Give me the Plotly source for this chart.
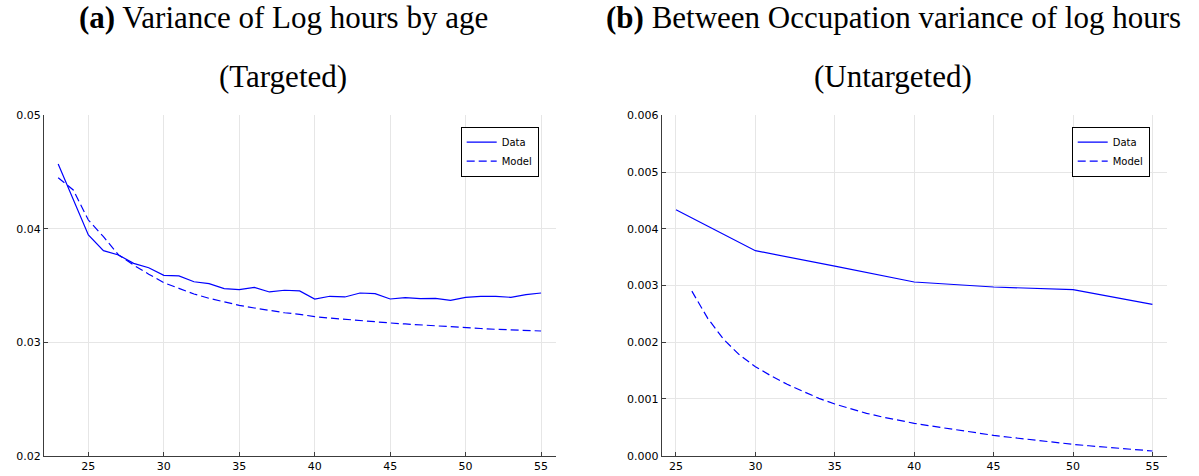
import plotly.graph_objects as go

# ---------------- data ----------------
ages_a = list(range(23, 56))
data_a = [0.0457, 0.0426, 0.03945, 0.03807, 0.03769, 0.03695, 0.03657, 0.0359,
          0.03584, 0.03533, 0.03516, 0.03472, 0.03463, 0.03484, 0.03443, 0.03458,
          0.03452, 0.03381, 0.03405, 0.03399, 0.03434, 0.03428, 0.03381, 0.03393,
          0.03384, 0.03387, 0.03369, 0.03396, 0.03405, 0.03405, 0.03396, 0.03419,
          0.03434]
model_a = [0.0445, 0.04342, 0.04077, 0.0393, 0.03769, 0.0368, 0.0360, 0.03525,
           0.03475, 0.03425, 0.03387, 0.03355, 0.03325, 0.03302, 0.03281, 0.0326,
           0.03246, 0.03225, 0.03213, 0.03201, 0.0319, 0.0318, 0.0317, 0.03161,
           0.03152, 0.03144, 0.03136, 0.03128, 0.03121, 0.03114, 0.03108, 0.03103,
           0.03099]

ages_b_data = [25, 30, 35, 40, 45, 50, 55]
data_b = [0.004336, 0.003614, 0.00334, 0.003062, 0.002974, 0.002927, 0.002668]
ages_b_model = list(range(26, 56))
model_b = [0.00290, 0.002421, 0.002051, 0.001775, 0.001569, 0.001405, 0.001258,
           0.001128, 0.001011, 0.000911, 0.000823, 0.000747, 0.000682, 0.000624,
           0.000571, 0.000526, 0.000483, 0.000439, 0.000398, 0.000359, 0.000325,
           0.000291, 0.000260, 0.000229, 0.000200, 0.000175, 0.000150, 0.000126,
           0.000104, 0.000083]

xticks = [25, 30, 35, 40, 45, 50, 55]
yticks_a = [0.02, 0.03, 0.04, 0.05]
yticks_b = [0.000, 0.001, 0.002, 0.003, 0.004, 0.005, 0.006]

title_a1 = "<b>(a)</b> Variance of Log hours by age"
title_a2 = "(Targeted)"
title_b1 = "<b>(b)</b> Between Occupation variance of log hours"
title_b2 = "(Untargeted)"

# ---------------- figure ----------------
W, H = 1199, 476
BLUE = "#0000FF"
DASH = "8px,4px"

fig = go.Figure()
fig.add_trace(go.Scatter(x=ages_a, y=data_a, mode="lines", name="Data",
                         line=dict(color=BLUE, width=1.2), xaxis="x", yaxis="y",
                         legend="legend"))
fig.add_trace(go.Scatter(x=ages_a, y=model_a, mode="lines", name="Model",
                         line=dict(color=BLUE, width=1.2, dash=DASH), xaxis="x", yaxis="y",
                         legend="legend"))
fig.add_trace(go.Scatter(x=ages_b_data, y=data_b, mode="lines", name="Data",
                         line=dict(color=BLUE, width=1.2), xaxis="x2", yaxis="y2",
                         legend="legend2"))
fig.add_trace(go.Scatter(x=ages_b_model, y=model_b, mode="lines", name="Model",
                         line=dict(color=BLUE, width=1.2, dash=DASH), xaxis="x2", yaxis="y2",
                         legend="legend2"))

def px_x(p):
    return p / W

def px_y(p):
    return 1 - p / H

AXCOL = "rgb(60,60,60)"
GRID = "rgb(230,230,230)"
tickfont = dict(family="DejaVu Sans", size=11, color="black")

common_x = dict(showline=True, linecolor=AXCOL, linewidth=1, ticks="inside", ticklen=4,
                tickcolor=AXCOL, showgrid=True, gridcolor=GRID, gridwidth=1,
                zeroline=False, tickfont=tickfont, tickvals=xticks, automargin=False)
common_y = dict(showline=True, linecolor=AXCOL, linewidth=1, ticks="inside", ticklen=4,
                tickcolor=AXCOL, showgrid=True, gridcolor=GRID, gridwidth=1,
                zeroline=False, tickfont=tickfont, automargin=False)

ydom = [px_y(455.7), px_y(115.3)]

fig.update_layout(
    width=W, height=H,
    margin=dict(l=0, r=0, t=0, b=0),
    paper_bgcolor="white", plot_bgcolor="white",
    xaxis=dict(domain=[px_x(44), px_x(556)], range=[22.06, 55.99], anchor="y", **common_x),
    yaxis=dict(domain=ydom, range=[0.02, 0.05], anchor="x", tickvals=yticks_a,
               tickformat=".2f", **common_y),
    xaxis2=dict(domain=[px_x(661.7), px_x(1166.7)], range=[24.1, 55.9], anchor="y2", **common_x),
    yaxis2=dict(domain=ydom, range=[0.0, 0.006], anchor="x2", tickvals=yticks_b,
                tickformat=".3f", **common_y),
    legend=dict(x=px_x(538.7), y=px_y(126.7), xanchor="right", yanchor="top",
                bordercolor="black", borderwidth=1, bgcolor="white",
                font=dict(family="DejaVu Sans", size=10, color="black")),
    legend2=dict(x=px_x(1149.7), y=px_y(126.7), xanchor="right", yanchor="top",
                 bordercolor="black", borderwidth=1, bgcolor="white",
                 font=dict(family="DejaVu Sans", size=10, color="black")),
    showlegend=True,
)

tfont = dict(family="Liberation Serif", size=31, color="black")
for txt, cx, cy in [(title_a1, 283, 18), (title_a2, 283, 77),
                    (title_b1, 893, 18), (title_b2, 893, 77)]:
    fig.add_annotation(text=txt, x=px_x(cx), y=px_y(cy), xref="paper", yref="paper",
                       xanchor="center", yanchor="middle", showarrow=False, font=tfont)

fig.write_html("out.html")
